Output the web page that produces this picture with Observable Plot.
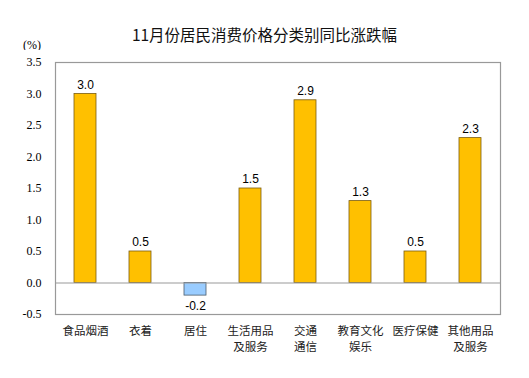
<!DOCTYPE html>
<html><head><meta charset="utf-8">
<script src="https://cdn.jsdelivr.net/npm/d3@7"></script>
<script src="https://cdn.jsdelivr.net/npm/@observablehq/plot@0.6"></script>
<style>
body{margin:0;background:#fff;}
#wrap{position:relative;width:529px;height:378px;}
#title{position:absolute;left:0;top:0;width:529px;height:50px;}
#title .t{position:absolute;left:0;width:529px;top:23px;text-align:center;font:15.5px "Noto Sans CJK SC",sans-serif;color:#111;}
#title .u{position:absolute;left:23px;top:38px;font:12px "Liberation Serif",serif;color:#000;}
#chart{position:absolute;left:0;top:50px;}
</style></head><body>
<div id="wrap">
<div id="title"><div class="t">11月份居民消费价格分类别同比涨跌幅</div><div class="u">(%)</div></div>
<div id="chart"></div>
</div>
<script>
const categories = ["食品烟酒","衣着","居住","生活用品\n及服务","交通\n通信","教育文化\n娱乐","医疗保健","其他用品\n及服务"];
const values = [3.0, 0.5, -0.2, 1.5, 2.9, 1.3, 0.5, 2.3];
const yTicks = [-0.5, 0, 0.5, 1.0, 1.5, 2.0, 2.5, 3.0, 3.5];

const data = categories.map((c, i) => ({cat: c, v: values[i]}));
const fmt = d => d.toFixed(1);

const chart = Plot.plot({
  width: 529,
  height: 328,
  marginTop: 12,
  marginBottom: 64,
  marginLeft: 55,
  marginRight: 29,
  x: {domain: categories, paddingInner: 0.6, paddingOuter: 0.3, label: null},
  y: {domain: [-0.5, 3.5], label: null},
  style: {background: "#fff"},
  marks: [
    Plot.barY(data, {x: "cat", y: "v", fill: d => d.v < 0 ? "#99CCFF" : "#FFC000", stroke: d => d.v < 0 ? "#4a5a6a" : "#7a5c10", strokeWidth: 0.8}),
    Plot.ruleY([0], {stroke: "#999", strokeWidth: 1}),
    Plot.frame({stroke: "#999", strokeWidth: 1.2}),
    Plot.text(data.filter(d => d.v >= 0), {x: "cat", y: "v", text: d => fmt(d.v), dy: -9, fontSize: 12, fontFamily: "Liberation Sans, Arial, sans-serif", fill: "#000"}),
    Plot.text(data.filter(d => d.v < 0), {x: "cat", y: "v", text: d => fmt(d.v), dy: 11, fontSize: 12, fontFamily: "Liberation Sans, Arial, sans-serif", fill: "#000"}),
    Plot.axisY({ticks: yTicks, tickFormat: fmt, tickSize: 0, tickPadding: 14, fontSize: 12, fontFamily: "Liberation Serif, serif", label: null}),
    Plot.axisX({tickSize: 0, tickPadding: 9, fontSize: 11.5, fontFamily: "Noto Sans CJK SC, sans-serif", fill: "#222", label: null, lineHeight: 1.38})
  ]
});
document.getElementById("chart").appendChild(chart);
</script>
</body></html>
